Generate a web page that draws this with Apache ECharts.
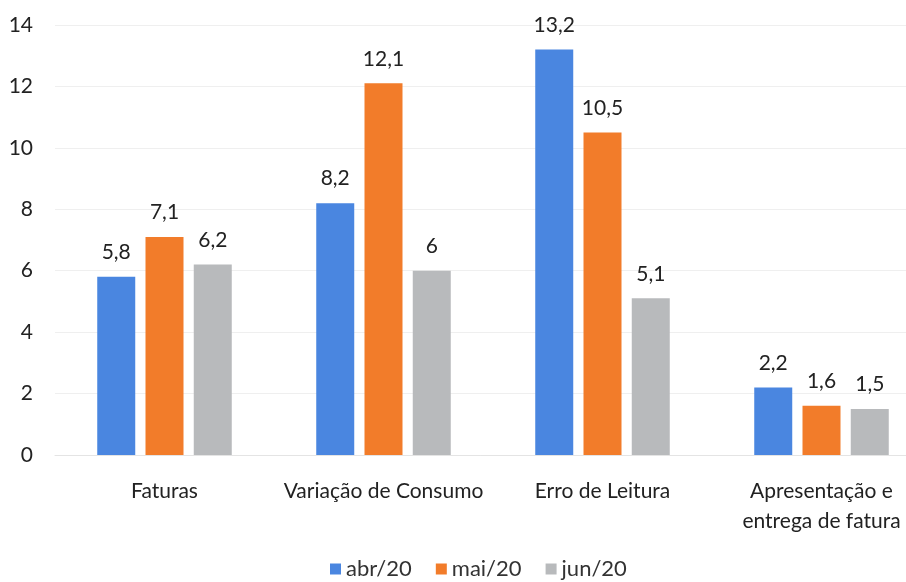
<!DOCTYPE html>
<html><head><meta charset="utf-8">
<script src="https://cdn.jsdelivr.net/npm/echarts@6/dist/echarts.min.js"></script>
<style>html,body{margin:0;padding:0;background:#fff}#c{width:906px;height:582px}</style>
</head><body><div id="c"></div>
<script>
const categories = ['Faturas', 'Variação de Consumo', 'Erro de Leitura', 'Apresentação e\nentrega de fatura'];
const seriesNames = ['abr/20', 'mai/20', 'jun/20'];
const abr20 = [5.8, 8.2, 13.2, 2.2];
const mai20 = [7.1, 12.1, 10.5, 1.6];
const jun20 = [6.2, 6, 5.1, 1.5];
const colors = ['#4a86e0', '#f27c2a', '#b8babc'];
const font = 'Lato, sans-serif';
const chart = echarts.init(document.getElementById('c'));
function mk(name, data, color) {
  return {
    name, type: 'bar', data, barWidth: 38, barGap: '27%',
    itemStyle: { color },
    label: { show: true, position: 'top', distance: 14, color: '#222', fontSize: 21, fontFamily: font,
      formatter: p => String(p.value).replace('.', ',') }
  };
}
chart.setOption({
  animation: false,
  color: colors,
  grid: { left: 55, top: 25, width: 876, height: 430, containLabel: false, outerBoundsMode: 'none' },
  legend: {
    top: 553, left: 325, itemWidth: 11, itemHeight: 11, itemGap: 24,
    icon: 'rect', textStyle: { fontSize: 22, color: '#333', fontFamily: font }
  },
  xAxis: {
    type: 'category', data: categories,
    axisLine: { show: true, lineStyle: { color: '#e4e4e4' } }, axisTick: { show: false },
    axisLabel: { interval: 0, hideOverlap: false, fontSize: 21, color: '#222', fontFamily: font, margin: 21, lineHeight: 30 }
  },
  yAxis: {
    type: 'value', min: 0, max: 14, interval: 2,
    axisLine: { show: false }, axisTick: { show: false },
    splitLine: { lineStyle: { color: '#efefef' } },
    axisLabel: { fontSize: 21, color: '#222', fontFamily: font, margin: 22 }
  },
  series: [mk(seriesNames[0], abr20, colors[0]), mk(seriesNames[1], mai20, colors[1]), mk(seriesNames[2], jun20, colors[2])]
});
</script></body></html>
